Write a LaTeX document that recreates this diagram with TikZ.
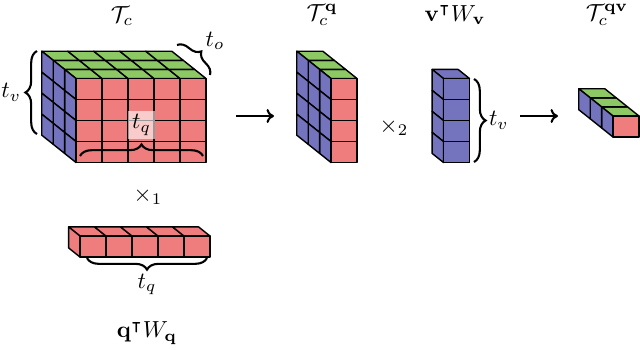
\documentclass[tikz,border=0pt]{standalone}
\usepackage{amssymb}
\usetikzlibrary{decorations.pathreplacing,arrows.meta}
\definecolor{cred}{RGB}{240,125,125}
\definecolor{cblue}{RGB}{115,115,190}
\definecolor{cgreen}{RGB}{140,200,100}
\def\tcw{26}
\def\tch{21}
\def\tdx{-11.4}
\def\tdy{-9.1}
\newcommand{\drawtensor}[8]{%
  \pgfmathtruncatemacro\tnc{#3-1}%
  \pgfmathtruncatemacro\tnr{#4-1}%
  \pgfmathtruncatemacro\tnd{#5-1}%
  \foreach \k in {0,...,\tnd}{%
    \foreach \i in {0,...,\tnc}{%
      \draw[cell,fill=#6] ({#1+\i*\tcw+\k*\tdx},{#2+\k*\tdy}) -- ++(\tcw,0) -- ++(\tdx,\tdy) -- ++(-\tcw,0) -- cycle;
    }%
    \foreach \j in {0,...,\tnr}{%
      \draw[cell,fill=#7] ({#1+\k*\tdx},{#2+\j*\tch+\k*\tdy}) -- ++(\tdx,\tdy) -- ++(0,\tch) -- ++({-1*\tdx},{-1*\tdy}) -- cycle;
    }%
  }%
  \foreach \i in {0,...,\tnc}{%
    \foreach \j in {0,...,\tnr}{%
      \draw[cell,fill=#8] ({#1+\i*\tcw},{#2+\j*\tch}) rectangle ++(\tcw,\tch);
    }%
  }%
}
\begin{document}
\begin{tikzpicture}[x=0.43pt,y=-0.43pt,
  cell/.style={draw=black,line width=0.6pt,line join=round},
  bracedec/.style={decorate,decoration={brace,amplitude=5pt},line width=0.9pt},
  arr/.style={-{To[length=3.2pt,width=6pt]},line width=0.9pt},
  lbl/.style={inner sep=1pt}]
\useasboundingbox (0,0) rectangle (640,349);

% tensors
\drawtensor{76}{78.5}{5}{4}{3}{cgreen}{cblue}{cred}
\drawtensor{331}{78.5}{1}{4}{3}{cgreen}{cblue}{cred}
\drawtensor{443.5}{78.5}{1}{4}{1}{cblue}{cblue}{cblue}
\drawtensor{80}{236}{5}{1}{1}{cred}{cred}{cred}
\drawtensor{613}{116}{1}{1}{3}{cgreen}{cblue}{cred}

% titles
\node[lbl] (Tc) at (122,16) {$\mathcal{T}_c$};
\node[lbl] (Tcq) at (322,15) {$\mathcal{T}_c^{\mathbf{q}}$};
\node[lbl] (vW) at (455,15) {$\mathbf{v}^\intercal W_{\mathbf{v}}$};
\node[lbl] (Tcqv) at (607,15) {$\mathcal{T}_c^{\mathbf{qv}}$};
\node[lbl] (x1) at (148,196) {$\times_1$};
\node[lbl] (x2) at (394,127) {$\times_2$};
\node[lbl] (qW) at (147,333) {$\mathbf{q}^\intercal W_{\mathbf{q}}$};

% braces
\coordinate (tvA) at (37,134);
\coordinate (tvB) at (37,51);
\draw[bracedec] (tvA) -- (tvB) node[midway,left=5.5pt,lbl] (tvl) {$t_v$};

\coordinate (toA) at (177,45);
\coordinate (toB) at (210,75);
\node[lbl] (tol) at (215,41) {$t_o$};
\draw[bracedec] (toA) -- (toB);

\coordinate (tqA) at (80,156);
\coordinate (tqB) at (203,156);
\draw[bracedec] (tqA) -- (tqB);
\node[lbl,fill=white,fill opacity=0.6,text opacity=1,minimum width=11.5pt,minimum height=12pt] (tql) at (141.5,125) {$t_q$};

\coordinate (tq2A) at (207,258);
\coordinate (tq2B) at (87,258);
\draw[bracedec] (tq2A) -- (tq2B) node[midway,below=5.5pt,lbl] (tq2l) {$t_q$};

\coordinate (tv2A) at (474,79);
\coordinate (tv2B) at (474,162);
\draw[bracedec] (tv2A) -- (tv2B) node[midway,right=5pt,lbl] (tv2l) {$t_v$};

% arrows
\coordinate (a1s) at (236,116);
\coordinate (a1e) at (274,116);
\draw[arr] (a1s) -- (a1e);
\coordinate (a2s) at (520,116);
\coordinate (a2e) at (558,116);
\draw[arr] (a2s) -- (a2e);
\end{tikzpicture}
\end{document}
